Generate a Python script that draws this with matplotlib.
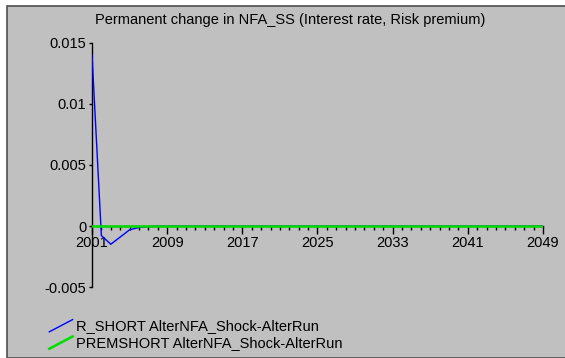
import matplotlib
matplotlib.use("Agg")
import matplotlib.pyplot as plt
from matplotlib.legend_handler import HandlerLine2D
from matplotlib.lines import Line2D
from matplotlib.patches import Rectangle
from matplotlib.ticker import MultipleLocator

plt.rcParams["font.family"] = ["Liberation Sans", "DejaVu Sans"]

years = list(range(2001, 2050))
r_short_head = [0.0140, -0.00077, -0.00148, -0.00089, -0.00030, -0.00011, -0.00004]
r_short = r_short_head + [0.0] * (len(years) - len(r_short_head))
premshort = [0.0] * len(years)

x_ticks = [2001, 2009, 2017, 2025, 2033, 2041, 2049]
y_ticks = [-0.005, 0, 0.005, 0.01, 0.015]
y_tick_labels = ["-0.005", "0", "0.005", "0.01", "0.015"]

series_labels = [
    "R_SHORT AlterNFA_Shock-AlterRun",
    "PREMSHORT AlterNFA_Shock-AlterRun",
]

BG = "#c0c0c0"


class SlantedLine(HandlerLine2D):
    # legend sample drawn as a rising diagonal stroke
    def create_artists(self, legend, orig_handle, xdescent, ydescent,
                       width, height, fontsize, trans):
        line = Line2D([-xdescent, -xdescent + width],
                      [-ydescent - 0.2 * height, -ydescent + 1.0 * height])
        self.update_prop(line, orig_handle, legend)
        line.set_transform(trans)
        return [line]


fig = plt.figure(figsize=(5.65, 3.58), dpi=100, facecolor="white")
fig.patches.append(Rectangle((7 / 565, 0.5 / 358), 1.0, 351.5 / 358,
                             transform=fig.transFigure, facecolor=BG,
                             edgecolor="#505050", linewidth=1.2, zorder=-1))

ax = fig.add_axes([92 / 565, 1 - 287.3 / 358, 451 / 565, 244.6 / 358])
ax.set_facecolor("none")

ax.plot(years, r_short, color="#0000ff", linewidth=1.0, zorder=3,
        label=series_labels[0])
ax.plot(years, premshort, color="#00dd00", linewidth=1.8, zorder=3,
        label=series_labels[1])

ax.set_xlim(2001, 2049)
ax.set_ylim(-0.005, 0.015)

ax.spines["top"].set_visible(False)
ax.spines["right"].set_visible(False)
ax.spines["bottom"].set_position(("data", 0))
ax.spines["left"].set_linewidth(1.0)
ax.spines["bottom"].set_linewidth(1.0)

ax.set_xticks(x_ticks)
ax.set_xticklabels([str(v) for v in x_ticks])
ax.xaxis.set_minor_locator(MultipleLocator(1))
ax.tick_params(axis="x", which="major", direction="out", length=6, width=1,
               pad=1, labelsize=10.5)
ax.tick_params(axis="x", which="minor", direction="out", length=3, width=1)
ax.set_yticks(y_ticks)
ax.set_yticklabels(y_tick_labels)
ax.tick_params(axis="y", direction="out", length=2, width=1, pad=2,
               labelsize=10.5)

fig.text(0.513, 1 - 20 / 358, "Permanent change in NFA_SS (Interest rate, Risk premium)",
         ha="center", va="center", fontsize=10.5)

leg = fig.legend(handler_map={Line2D: SlantedLine()},
                 loc="lower left", bbox_to_anchor=(42 / 565, 1 - 357 / 358),
                 frameon=False, fontsize=10.5, handlelength=1.6,
                 handletextpad=0.2, labelspacing=0.2, borderpad=0.0)

fig.savefig("out.png", dpi=100, facecolor=fig.get_facecolor())
